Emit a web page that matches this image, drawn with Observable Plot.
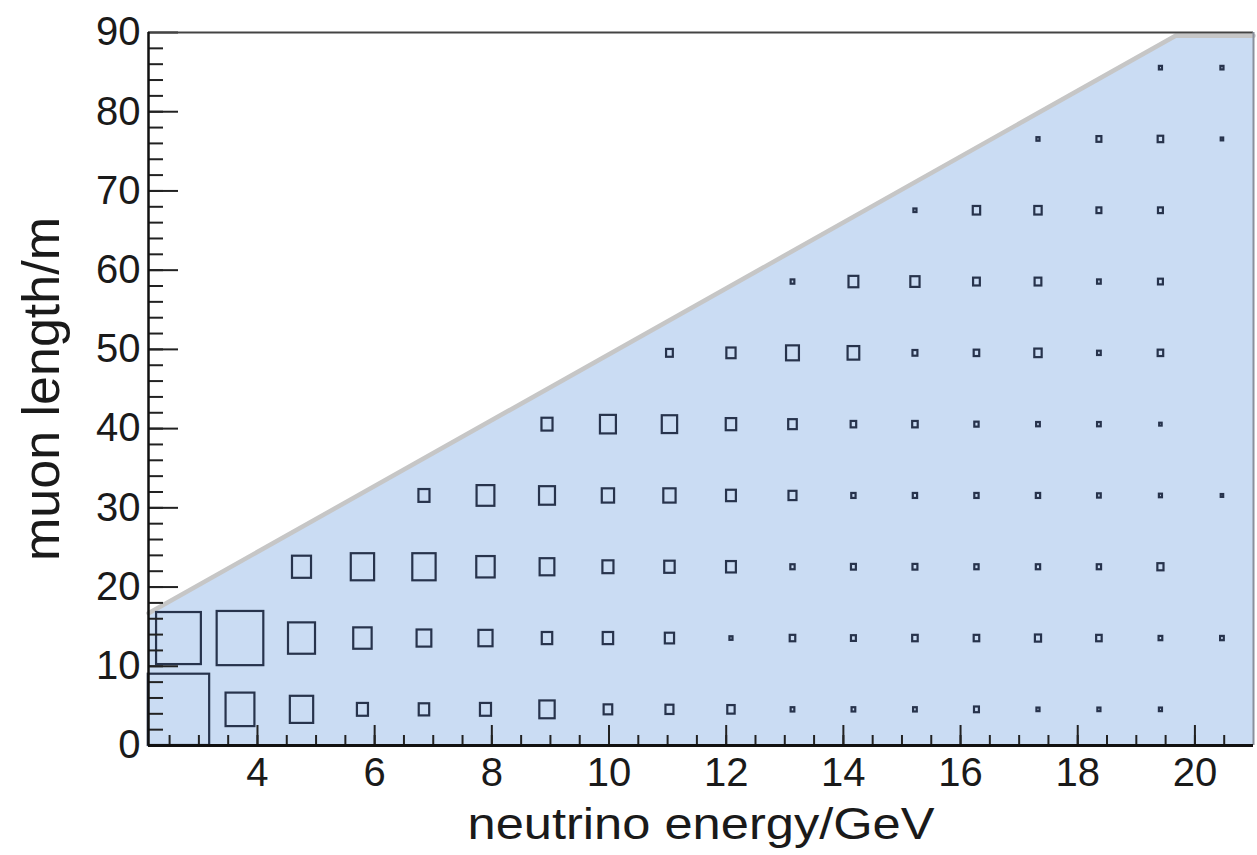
<!DOCTYPE html>
<html>
<head>
<meta charset="utf-8">
<script src="https://cdn.jsdelivr.net/npm/d3@7"></script>
<script src="https://cdn.jsdelivr.net/npm/@observablehq/plot@0.6"></script>
<style>
  html, body { margin: 0; padding: 0; background: #fff; }
  #chart svg { display: block; }
</style>
</head>
<body>
<div id="chart"></div>
<script>
// ---- data ----
const energyCenters = [2.66, 3.71, 4.76, 5.80, 6.85, 7.90, 8.95, 9.99, 11.04,
                       12.09, 13.14, 14.18, 15.23, 16.28, 17.33, 18.37, 19.42, 20.47];
const lengthCenters = [4.5, 13.5, 22.5, 31.5, 40.5, 49.5, 58.5, 67.5, 76.5, 85.5];
const energyBinWidth = 1.0476;
const lengthBinWidth = 9;

// relative box size (content / max) per bin, one array per muon-length row
const boxRow1  = [1.00, 0.47, 0.38, 0.18, 0.17, 0.18, 0.25, 0.14, 0.13, 0.12, 0.06, 0.06, 0.06, 0.08, 0.05, 0.05, 0.05, 0];
const boxRow2  = [0.73, 0.76, 0.44, 0.30, 0.24, 0.23, 0.17, 0.17, 0.15, 0.05, 0.09, 0.08, 0.09, 0.09, 0.10, 0.09, 0.06, 0.06];
const boxRow3  = [0, 0, 0.31, 0.38, 0.38, 0.30, 0.24, 0.18, 0.17, 0.16, 0.07, 0.08, 0.08, 0.07, 0.07, 0.07, 0.10, 0];
const boxRow4  = [0, 0, 0, 0, 0.18, 0.29, 0.26, 0.20, 0.20, 0.16, 0.13, 0.07, 0.07, 0.07, 0.07, 0.06, 0.05, 0.04];
const boxRow5  = [0, 0, 0, 0, 0, 0, 0.18, 0.26, 0.25, 0.17, 0.14, 0.09, 0.09, 0.07, 0.06, 0.06, 0.04, 0];
const boxRow6  = [0, 0, 0, 0, 0, 0, 0, 0, 0.11, 0.15, 0.21, 0.19, 0.08, 0.09, 0.12, 0.06, 0.09, 0];
const boxRow7  = [0, 0, 0, 0, 0, 0, 0, 0, 0, 0, 0.06, 0.16, 0.15, 0.11, 0.11, 0.06, 0.08, 0];
const boxRow8  = [0, 0, 0, 0, 0, 0, 0, 0, 0, 0, 0, 0, 0.05, 0.12, 0.12, 0.08, 0.08, 0];
const boxRow9  = [0, 0, 0, 0, 0, 0, 0, 0, 0, 0, 0, 0, 0, 0, 0.05, 0.08, 0.09, 0.04];
const boxRow10 = [0, 0, 0, 0, 0, 0, 0, 0, 0, 0, 0, 0, 0, 0, 0, 0, 0.05, 0.05];

// kinematically allowed region (upper boundary)
const regionEnergy = [2.14, 19.67, 21.0];
const regionLength = [16.7, 89.6, 89.6];

const xTickLabels = [4, 6, 8, 10, 12, 14, 16, 18, 20];
const yTickLabels = [0, 10, 20, 30, 40, 50, 60, 70, 80, 90];
const xMinorTicks = d3.range(2.5, 21.0, 0.5);
const yMinorTicks = d3.range(2, 90, 2);

const xTitle = "neutrino energy/GeV";
const yTitle = "muon length/m";

const xDomain = [2.14, 21.0];
const yDomain = [0, 90];

// ---- build tables ----
const boxRows = [boxRow1, boxRow2, boxRow3, boxRow4, boxRow5, boxRow6, boxRow7, boxRow8, boxRow9, boxRow10];
const cells = [];
boxRows.forEach((row, j) => row.forEach((f, i) => {
  if (f > 0) cells.push({e: energyCenters[i], l: lengthCenters[j], f});
}));
const region = regionEnergy.map((e, i) => ({e, l: regionLength[i]}));

const W = 1257, H = 855;
const mL = 148, mR = 4, mT = 32, mB = 110;
const innerW = W - mL - mR, innerH = H - mT - mB;

const chart = Plot.plot({
  width: W,
  height: H,
  marginLeft: mL,
  marginRight: mR,
  marginTop: mT,
  marginBottom: mB,
  style: {fontFamily: "'Liberation Sans', Arial, Helvetica, sans-serif", color: "#1a1a1a", background: "#fff"},
  x: {domain: xDomain, axis: null},
  y: {domain: yDomain, axis: null},
  marks: [
    Plot.areaY(region, {x: "e", y: "l", fill: "#cadcf3", curve: "linear"}),
    Plot.line(region, {x: "e", y: "l", stroke: "#c6c6c6", strokeWidth: 4.5}),
    Plot.rect(cells, {
      x1: d => d.e - d.f * energyBinWidth / 2,
      x2: d => d.e + d.f * energyBinWidth / 2,
      y1: d => d.l - d.f * lengthBinWidth / 2,
      y2: d => d.l + d.f * lengthBinWidth / 2,
      fill: "none", stroke: "#27334c", strokeWidth: 2.2
    }),
    // ticks pointing inward
    Plot.tickX(xMinorTicks, {x: d => d, insetTop: innerH - 10, stroke: "#222", strokeWidth: 2}),
    Plot.tickX(xTickLabels, {x: d => d, insetTop: innerH - 20, stroke: "#222", strokeWidth: 2}),
    Plot.tickY(yMinorTicks, {y: d => d, insetRight: innerW - 15, stroke: "#222", strokeWidth: 2}),
    Plot.tickY(yTickLabels, {y: d => d, insetRight: innerW - 30, stroke: "#222", strokeWidth: 2}),
    // frame
    Plot.ruleY([yDomain[1]], {stroke: "#444", strokeWidth: 2}),
    Plot.ruleX([xDomain[1]], {stroke: "#8a909c", strokeWidth: 2}),
    Plot.ruleY([yDomain[0]], {stroke: "#111", strokeWidth: 3}),
    Plot.ruleX([xDomain[0]], {stroke: "#111", strokeWidth: 2.5}),
    // tick labels
    Plot.axisX({ticks: xTickLabels, tickSize: 0, tickPadding: 12, fontSize: 40, label: null, tickFormat: d => String(d)}),
    Plot.axisY({ticks: yTickLabels, tickSize: 0, tickPadding: 8, fontSize: 40, label: null, tickFormat: d => String(d)}),
    // titles
    Plot.text([xTitle], {frameAnchor: "bottom", dy: 93, lineAnchor: "bottom", textAnchor: "middle", fontSize: 44, fill: "#1a1a1a"}),
    Plot.text([yTitle], {frameAnchor: "left", dx: -90, lineAnchor: "bottom", textAnchor: "middle", rotate: -90, fontSize: 52, fill: "#1a1a1a"})
  ]
});

document.getElementById("chart").appendChild(chart);
chart.querySelectorAll("text").forEach(t => {
  if (t.textContent === xTitle) {
    t.setAttribute("textLength", 467);
    t.setAttribute("lengthAdjust", "spacingAndGlyphs");
  }
});
</script>
</body>
</html>
